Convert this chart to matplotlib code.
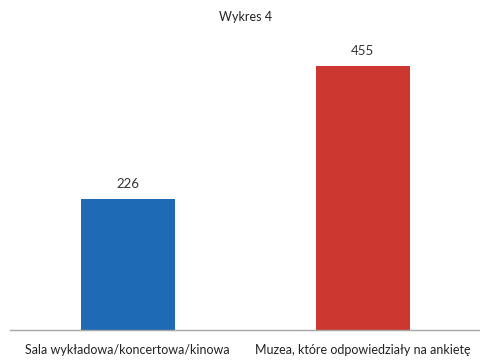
import matplotlib
matplotlib.use("Agg")
import matplotlib.pyplot as plt

plt.rcParams['font.family'] = ['Lato', 'DejaVu Sans']

categories = ["Sala wykładowa/koncertowa/kinowa", "Muzea, które odpowiedziały na ankietę"]
values = [226, 455]
colors = ["#1F6AB5", "#CC3830"]
title = "Wykres 4"

fig = plt.figure(figsize=(4.8, 3.6), dpi=100)
ax = fig.add_axes([10/480, 30/360, 470/480, 290/360])
x = list(range(len(values)))
bars = ax.bar(x, values, width=0.40, color=colors)
ax.set_xlim(-0.5, 1.5)
ax.set_ylim(0, 500)
for s in ['top', 'right', 'left']:
    ax.spines[s].set_visible(False)
ax.spines['bottom'].set_color('#A6A6A6')
ax.spines['bottom'].set_linewidth(1.0)
ax.set_yticks([])
ax.set_xticks([])
for xi, v in zip(x, values):
    ax.annotate(str(v), (xi, v), xytext=(0, 11), textcoords='offset points',
                ha='center', va='center', fontsize=9.5, color='#333333')
for xi, c in zip(x, categories):
    ax.annotate(c, (xi, 0), xytext=(0, -14.4), textcoords='offset points',
                ha='center', va='center', fontsize=9, color='#222222')
fig.text(246/480, 1 - 17/360, title, ha='center', va='center', fontsize=9, color='#222222')
fig.savefig("out.png", dpi=100, facecolor='white')
